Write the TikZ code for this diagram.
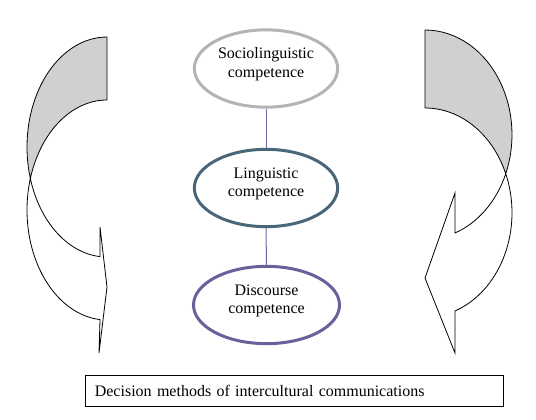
\documentclass[tikz,border=0pt]{standalone}
\usepackage{fontspec}
\setmainfont{Liberation Serif}
\usepackage{xcolor}
\usetikzlibrary{shapes.geometric}

\definecolor{socioline}{RGB}{180,180,180}
\definecolor{lingline}{RGB}{74,103,122}
\definecolor{discline}{RGB}{104,98,156}
\definecolor{linkline}{RGB}{108,104,162}
\definecolor{bandgray}{RGB}{208,208,208}

\begin{document}
\begin{tikzpicture}[
  x=0.75pt, y=0.75pt,
  font=\fontsize{12}{13.8}\selectfont,
  comp/.style={ellipse, line width=2.25pt, fill=white, align=center,
               inner sep=0pt, text depth=9pt,
               minimum width=107.5pt, minimum height=58pt},
  link/.style={draw=linkline, line width=0.75pt},
  band/.style={draw=black, line width=0.6pt},
  back/.style={band, fill=bandgray},
  front/.style={band, fill=white},
  caption/.style={draw=black, line width=0.9pt, align=left, inner xsep=7pt,
                  text width=299.5pt, minimum height=23.25pt}]

\useasboundingbox (0,0) rectangle (536,419);

%% ---- column of competences ----
\node[comp, draw=socioline] (socio) at (266,350.5)
  {Sociolinguistic\\competence};
\node[comp, draw=lingline] (ling) at (266,231)
  {Linguistic\\competence};
\node[comp, draw=discline, minimum width=109.5pt] (disc) at (266.5,114)
  {Discourse\\competence};

\draw[link] (socio.south) -- (ling.north);
\draw[link] (ling.south) -- (disc.north);

%% ---- left curved arrow (two half ellipses, rx 80, ry 110) ----
\draw[back] (107,382)
  arc[start angle=90, end angle=196.64, x radius=80, y radius=110]
  arc[start angle=163.36, end angle=90, x radius=80, y radius=110] -- cycle;
\draw[front] (107,209) ++(163.36:80 and 110)
  arc[start angle=163.36, end angle=265, x radius=80, y radius=110]
  -- (99,66) -- (107,132) -- (100,192) -- (100,162.4)
  arc[start angle=265, end angle=196.64, x radius=80, y radius=110] -- cycle;

%% ---- right curved arrow (rx 87, ry 104.7) ----
\draw[back] (425,389)
  arc[start angle=90, end angle=-21.87, x radius=87, y radius=104.7]
  arc[start angle=21.87, end angle=90, x radius=87, y radius=104.7] -- cycle;
\draw[front] (425,206.3) ++(21.87:87 and 104.7)
  arc[start angle=21.87, end angle=-69.83, x radius=87, y radius=104.7]
  -- (455,66) -- (425,141) -- (455,226) -- (455,186)
  arc[start angle=-69.83, end angle=-21.87, x radius=87, y radius=104.7]
  -- cycle;

%% ---- caption ----
\node[caption] (methods) at (294.5,28)
  {Decision methods of intercultural communications};
\end{tikzpicture}
\end{document}
